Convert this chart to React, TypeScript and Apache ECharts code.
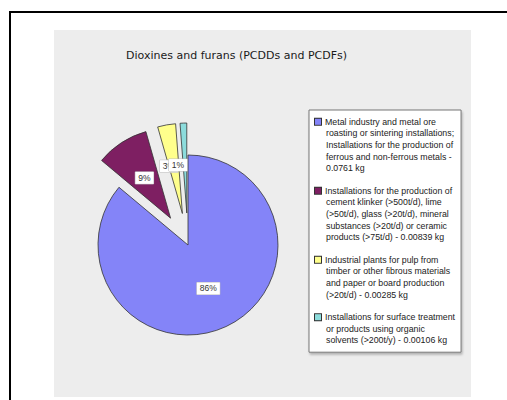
import React, { useEffect, useRef } from "react";
import * as echarts from "echarts";

const titleText = "Dioxines and furans (PCDDs and PCDFs)";

const legendLines: string[][] = [
  [
    "Metal industry and metal ore",
    "roasting or sintering installations;",
    "Installations for the production of",
    "ferrous and non-ferrous metals -",
    "0.0761 kg",
  ],
  [
    "Installations for the production of",
    "cement klinker (>500t/d), lime",
    "(>50t/d), glass (>20t/d), mineral",
    "substances (>20t/d) or ceramic",
    "products (>75t/d) - 0.00839 kg",
  ],
  [
    "Industrial plants for pulp from",
    "timber or other fibrous materials",
    "and paper or board production",
    "(>20t/d) - 0.00285 kg",
  ],
  [
    "Installations for surface treatment",
    "or products using organic",
    "solvents (>200t/y) - 0.00106 kg",
  ],
];

const categories = legendLines.map((l) => l.join(" "));
const values = [0.0761, 0.00839, 0.00285, 0.00106];
const exploded = [false, true, true, true];
const colors = ["#8484F8", "#7E1F62", "#FFFF8C", "#8CDCDC"];
const labelShift = [0, 0, -5, -7];

export default function App() {
  const ref = useRef<HTMLDivElement>(null);
  useEffect(() => {
    document.body.style.margin = "0";
    if (!ref.current) return;
    const chart = echarts.init(ref.current, null, { renderer: "svg" });
    const rich: Record<string, any> = {
      g: { width: 4 },
      sp: { width: 11 },
    };
    colors.forEach((c, i) => {
      rich["m" + i] = {
        width: 6,
        height: 6,
        backgroundColor: c,
        borderColor: "#333",
        borderWidth: 1,
      };
    });
    chart.setOption({
      animation: false,
      title: {
        text: titleText,
        left: 121,
        top: 45,
        textStyle: {
          fontFamily: "DejaVu Sans",
          fontSize: 11,
          fontWeight: "normal",
          color: "#1a1a1a",
        },
      },
      graphic: [
        {
          type: "rect",
          z: -10,
          silent: true,
          shape: { x: 10, y: 12, width: 600, height: 600 },
          style: { fill: "#fff", stroke: "#000", lineWidth: 2 },
        },
        {
          type: "rect",
          z: -9,
          silent: true,
          shape: { x: 54, y: 30, width: 417, height: 367 },
          style: { fill: "#EDEDED" },
        },
      ],
      legend: {
        orient: "vertical",
        left: 309,
        top: 110,
        icon: "none",
        itemWidth: 0,
        itemHeight: 8,
        itemGap: 11,
        padding: [6, 6, 6, 1],
        backgroundColor: "#fff",
        borderColor: "#777",
        borderWidth: 1,
        shadowColor: "rgba(0,0,0,0.25)",
        shadowBlur: 2,
        shadowOffsetX: 1,
        shadowOffsetY: 2,
        selectedMode: false,
        data: categories,
        formatter: (name: string) => {
          const i = categories.indexOf(name);
          const lines = legendLines[i];
          return lines
            .map((l, k) => (k === 0 ? `{m${i}| }{g| }${l}` : `{sp| }${l}`))
            .join("\n");
        },
        textStyle: {
          fontFamily: "Liberation Sans",
          fontSize: 8.8,
          lineHeight: 11.6,
          color: "#222",
          rich,
        },
      },
      series: [
        {
          type: "pie",
          center: [188, 245],
          radius: 90,
          startAngle: 90,
          clockwise: true,
          selectedMode: "multiple",
          selectedOffset: 32,
          avoidLabelOverlap: false,
          minShowLabelAngle: 0,
          labelLayout: (p: any) => ({
            dx: labelShift[p.dataIndex],
            hideOverlap: false,
          }),
          emphasis: { disabled: true },
          itemStyle: { borderColor: "#333", borderWidth: 0.8 },
          label: {
            show: true,
            position: "inside",
            formatter: (p: any) => Math.round(p.percent) + "%",
            fontFamily: "Liberation Sans",
            fontSize: 8.5,
            color: "#333",
            backgroundColor: "#fff",
            borderColor: "#bbb",
            borderWidth: 0.5,
            padding: [2, 3, 1, 3],
          },
          labelLine: { show: false },
          data: categories.map((name, i) => ({
            name,
            value: values[i],
            selected: exploded[i],
            itemStyle: { color: colors[i] },
          })),
        },
      ],
    });
    return () => chart.dispose();
  }, []);
  return <div ref={ref} style={{ width: 507, height: 400 }} />;
}
